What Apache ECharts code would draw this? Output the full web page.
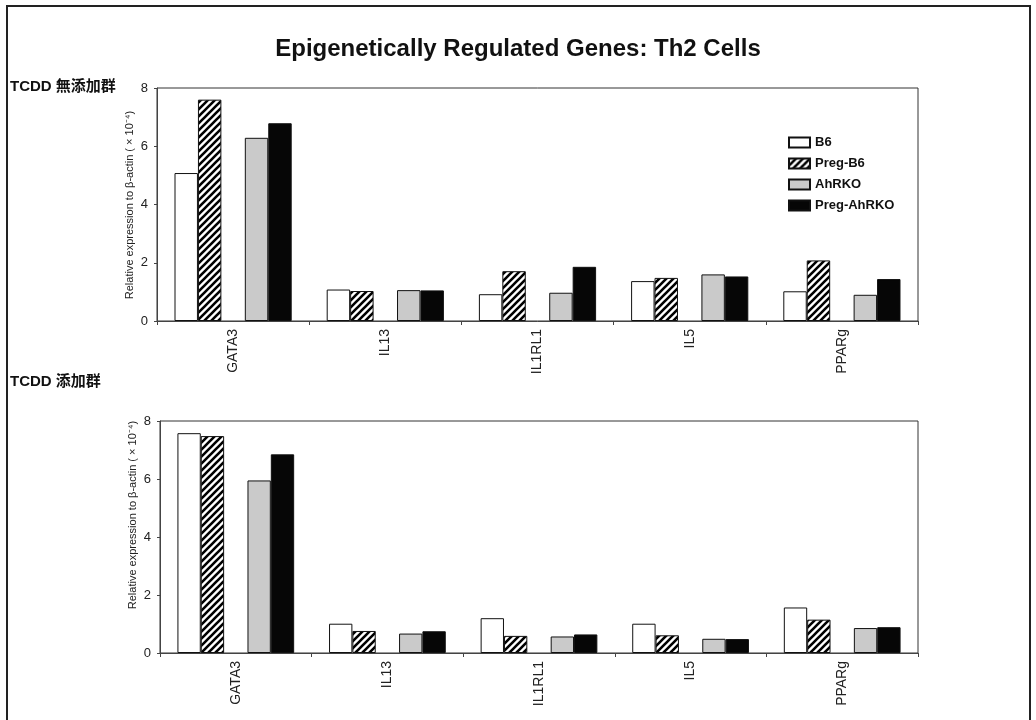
<!DOCTYPE html>
<html>
<head>
<meta charset="utf-8">
<script src="https://cdn.jsdelivr.net/npm/echarts@6/dist/echarts.min.js"></script>
<style>
html,body{margin:0;padding:0;background:#fff;}
#c{width:1036px;height:720px;}
</style>
</head>
<body>
<div id="c"></div>
<script>
// ---- data ----
const categories = ['GATA3', 'IL13', 'IL1RL1', 'IL5', 'PPARg'];
const seriesNames = ['B6', 'Preg-B6', 'AhRKO', 'Preg-AhRKO'];
// TCDD 無添加群 (top panel)
const ctrlB6        = [5.08, 1.08, 0.92, 1.37, 1.02];
const ctrlPregB6    = [7.60, 1.03, 1.71, 1.48, 2.08];
const ctrlAhRKO     = [6.29, 1.06, 0.97, 1.60, 0.90];
const ctrlPregAhRKO = [6.79, 1.05, 1.86, 1.53, 1.44];
// TCDD 添加群 (bottom panel)
const tcddB6        = [7.58, 1.01, 1.20, 1.01, 1.57];
const tcddPregB6    = [7.48, 0.76, 0.59, 0.61, 1.15];
const tcddAhRKO     = [5.95, 0.67, 0.57, 0.49, 0.86];
const tcddPregAhRKO = [6.85, 0.75, 0.64, 0.48, 0.89];
const yTicks = [0, 2, 4, 6, 8];
const titleText = 'Epigenetically Regulated Genes: Th2 Cells';
const panelLabels = ['TCDD 無添加群', 'TCDD 添加群'];
const yAxisName = 'Relative expression to β-actin ( × 10⁻⁴)';

// ---- hatch pattern ----
function makeHatch() {
  const s = 7;
  const cv = document.createElement('canvas');
  cv.width = s; cv.height = s;
  const g = cv.getContext('2d');
  g.fillStyle = '#fff';
  g.fillRect(0, 0, s, s);
  g.strokeStyle = '#000';
  g.lineWidth = 2.6;
  g.beginPath();
  g.moveTo(0, s); g.lineTo(s, 0);
  g.moveTo(-2, 2); g.lineTo(2, -2);
  g.moveTo(s - 2, s + 2); g.lineTo(s + 2, s - 2);
  g.stroke();
  return cv;
}
const hatch = makeHatch();

const styles = {
  'B6':          { color: '#ffffff', borderColor: '#111', borderWidth: 1 },
  'Preg-B6':     { color: { image: hatch, repeat: 'repeat' }, borderColor: '#111', borderWidth: 1 },
  'AhRKO':       { color: '#cacaca', borderColor: '#111', borderWidth: 1 },
  'Preg-AhRKO':  { color: '#060606', borderColor: '#111', borderWidth: 1 }
};

const font = 'Liberation Sans, Arial, sans-serif';

function panelSeries(idx, vals) {
  const out = [];
  const order = [0, 1, null, 2, 3];
  order.forEach(function (k) {
    if (k === null) {
      out.push({
        type: 'bar', name: '_gap', xAxisIndex: idx, yAxisIndex: idx,
        data: categories.map(function () { return null; }),
        barGap: '0%', barCategoryGap: '23%', silent: true
      });
    } else {
      out.push({
        type: 'bar', name: seriesNames[k], xAxisIndex: idx, yAxisIndex: idx,
        data: vals[k], itemStyle: styles[seriesNames[k]],
        barGap: '0%', barCategoryGap: '23%'
      });
    }
  });
  return out;
}

const grids = [
  { left: 157, top: 88, right: 118, height: 233, show: true, borderColor: '#333', borderWidth: 1, backgroundColor: 'transparent' },
  { left: 160, top: 421, right: 118, height: 232, show: true, borderColor: '#333', borderWidth: 1, backgroundColor: 'transparent' }
];

function xAx(i) {
  return {
    type: 'category', gridIndex: i, data: categories,
    axisLine: { show: true, lineStyle: { color: '#444', width: 1 } },
    axisTick: { show: true, length: 4, lineStyle: { color: '#444' } },
    axisLabel: { rotate: 90, fontSize: 14, color: '#222', fontFamily: font, margin: 8 }
  };
}
function yAx(i) {
  return {
    type: 'value', gridIndex: i, min: yTicks[0], max: yTicks[yTicks.length - 1], interval: 2,
    axisLine: { show: true, lineStyle: { color: '#444', width: 1 } },
    axisTick: { show: true, length: 3, lineStyle: { color: '#444' } },
    splitLine: { show: false },
    axisLabel: { fontSize: 13, color: '#222', fontFamily: font, margin: 9 }
  };
}

const chart = echarts.init(document.getElementById('c'), null, { renderer: 'canvas' });
chart.setOption({
  animation: false,
  backgroundColor: '#fff',
  title: {
    text: titleText, left: 'center', top: 32,
    textStyle: { fontSize: 24, fontWeight: 'bold', color: '#111', fontFamily: font }
  },
  legend: {
    data: seriesNames, orient: 'vertical', left: 783, top: 131,
    icon: 'rect',
    itemWidth: 21, itemHeight: 10, itemGap: 8,
    textStyle: { fontSize: 13, fontWeight: 'bold', color: '#111', fontFamily: font },
    selectedMode: false
  },
  grid: grids,
  xAxis: [xAx(0), xAx(1)],
  yAxis: [yAx(0), yAx(1)],
  series: panelSeries(0, [ctrlB6, ctrlPregB6, ctrlAhRKO, ctrlPregAhRKO])
    .concat(panelSeries(1, [tcddB6, tcddPregB6, tcddAhRKO, tcddPregAhRKO])),
  graphic: [
    { type: 'rect', shape: { x: 7, y: 6, width: 1023, height: 730 }, style: { fill: 'none', stroke: '#222', lineWidth: 2 }, silent: true },
    { type: 'text', left: 10, top: 79, style: { text: panelLabels[0], fontSize: 15, fontWeight: 'bold', fill: '#111', fontFamily: 'Liberation Sans, Noto Sans CJK JP, sans-serif' } },
    { type: 'text', left: 10, top: 374, style: { text: panelLabels[1], fontSize: 15, fontWeight: 'bold', fill: '#111', fontFamily: 'Liberation Sans, Noto Sans CJK JP, sans-serif' } },
    { type: 'text', x: 130, y: 205, rotation: Math.PI / 2, style: { text: yAxisName, fontSize: 11, fill: '#222', fontFamily: font, align: 'center', verticalAlign: 'middle' } },
    { type: 'text', x: 133, y: 515, rotation: Math.PI / 2, style: { text: yAxisName, fontSize: 11, fill: '#222', fontFamily: font, align: 'center', verticalAlign: 'middle' } }
  ]
});
</script>
</body>
</html>
